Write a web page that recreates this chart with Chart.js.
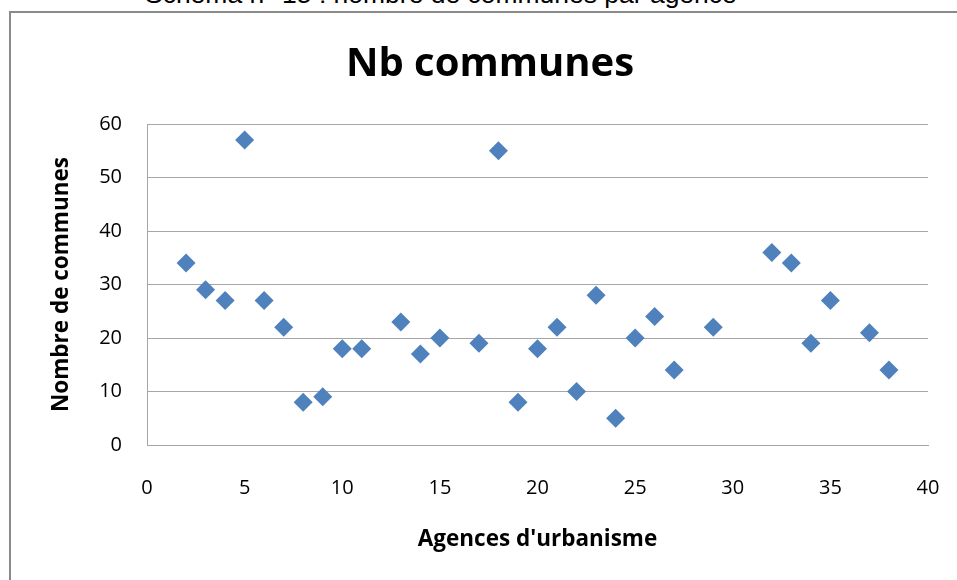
<!DOCTYPE html>
<html>
<head>
<meta charset="utf-8">
<script src="https://cdn.jsdelivr.net/npm/chart.js@4.4.1/dist/chart.umd.min.js"></script>
<style>
  html, body { margin: 0; padding: 0; background: #fff; overflow: hidden; }
  body { width: 957px; height: 580px; position: relative; }
  #caption {
    position: absolute; left: 145px; top: -20px; white-space: nowrap; line-height: 1;
    font-family: "Liberation Sans", Arial, sans-serif; font-size: 27px; color: #000;
  }
  #frame {
    position: absolute; left: 9px; top: 11px; width: 1000px; height: 600px;
    border-left: 2px solid #8a8a8a; border-top: 2px solid #8a8a8a;
  }
  #wrap { position: absolute; left: 0; top: 0; width: 957px; height: 580px; }
</style>
</head>
<body>
<div id="caption">Schéma n° 15 : nombre de communes par agence</div>
<div id="frame"></div>
<div id="wrap"><canvas id="chart" width="957" height="580"></canvas></div>
<script>
// Agence (x) -> nombre de communes (y)
const agences = [2, 3, 4, 5, 6, 7, 8, 9, 10, 11, 13, 14, 15, 17, 18, 19, 20, 21, 22, 23, 24, 25, 26, 27, 29, 32, 33, 34, 35, 37, 38]
const communes = [34, 29, 27, 57, 27, 22, 8, 9, 18, 18, 23, 17, 20, 19, 55, 8, 18, 22, 10, 28, 5, 20, 24, 14, 22, 36, 34, 19, 27, 21, 14]

const chartTitle = 'Nb communes'
const xTitle = "Agences d'urbanisme"
const yTitle = 'Nombre de communes'

const font = '"Open Sans", Lato, sans-serif'
const gridColor = '#a6a6a6'

// caption above the frame, cut off by the top of the page
const cap = document.getElementById('caption')
const mctx = document.createElement('canvas').getContext('2d')
mctx.font = '27px "Liberation Sans"'
const capSize = 27 * 592 / mctx.measureText(cap.textContent).width
cap.style.fontSize = capSize + 'px'
cap.style.top = (3 - 0.8465 * capSize) + 'px'

const points = agences.map((x, i) => ({ x, y: communes[i] }))

new Chart(document.getElementById('chart'), {
    type: 'scatter',
    data: {
        datasets: [{
            label: chartTitle,
            data: points,
            pointStyle: 'rectRot',
            pointRadius: 9.5,
            pointHoverRadius: 9.5,
            backgroundColor: '#4F81BD',
            borderColor: '#4F81BD',
            borderWidth: 0,
        }],
    },
    options: {
        responsive: false,
        animation: false,
        layout: { padding: { top: 41, right: 29, left: 52, bottom: 0 } },
        plugins: {
            legend: { display: false },
            tooltip: { enabled: false },
            title: {
                display: true,
                text: chartTitle,
                color: '#000',
                font: { family: font, size: 40, weight: 'bold' },
                padding: { top: 0, bottom: 35 },
            },
        },
        scales: {
            x: {
                type: 'linear',
                min: 0,
                max: 40,
                ticks: { stepSize: 5, color: '#000', padding: 31, font: { family: font, size: 20 } },
                grid: { display: false, drawTicks: false },
                border: { display: true, color: gridColor, width: 1 },
                title: {
                    display: true,
                    text: xTitle,
                    color: '#000',
                    font: { family: font, size: 22.5, weight: 'bold' },
                    padding: { top: 0, bottom: 27 },
                },
                afterFit: s => {
                    s.height = 135
                    s.paddingLeft = 0
                    s.paddingRight = 0
                },
            },
            y: {
                min: 0,
                max: 60,
                ticks: { stepSize: 10, color: '#000', padding: 25, font: { family: font, size: 20 } },
                grid: { color: gridColor, lineWidth: 1, drawTicks: false },
                border: { display: true, color: gridColor, width: 1 },
                title: {
                    display: true,
                    text: yTitle,
                    color: '#000',
                    font: { family: font, size: 22.5, weight: 'bold' },
                    padding: { top: -3.5, bottom: 0 },
                },
                afterFit: s => { s.width = 95 },
            },
        },
    },
})
</script>
</body>
</html>
